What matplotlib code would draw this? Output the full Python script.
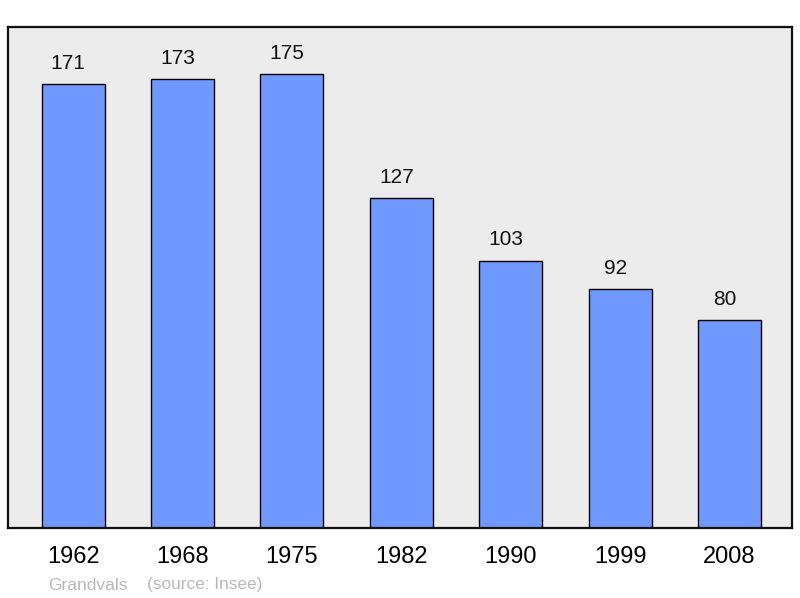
import matplotlib
matplotlib.use("Agg")
import matplotlib.pyplot as plt

years = ["1962", "1968", "1975", "1982", "1990", "1999", "2008"]
population = [171, 173, 175, 127, 103, 92, 80]
commune = "Grandvals"
source = "(source: Insee)"

plt.rcParams['font.family'] = ['Liberation Sans', 'DejaVu Sans']

fig = plt.figure(figsize=(8, 5.98), dpi=100)
ax = fig.add_axes([0.01, 0.117, 0.98, 0.838])
ax.set_facecolor("#ececec")

x = list(range(len(years)))
bars = ax.bar(x, population, width=0.576, color="#7099ff", edgecolor="black",
              linewidth=1.0, zorder=2)
for xi, v in zip(x, population):
    ax.annotate(str(v), (xi, v), xytext=(-3.5, 8), textcoords="offset points",
                ha="center", va="bottom", fontsize=15, color="#111111")

ax.set_xlim(-0.595, 6.572)
ax.set_ylim(0, 193)
ax.set_yticks([])
ax.set_xticks(x)
ax.set_xticklabels(years, fontsize=17)
ax.tick_params(axis="x", length=0, pad=13)
for s in ax.spines.values():
    s.set_linewidth(1.6)
    s.set_color("#111111")

fig.text(48 / 800, 1 - 585 / 598, commune, fontsize=12.5, color="#b8b8b8",
         ha="left", va="center")
fig.text(147 / 800, 1 - 585 / 598, source, fontsize=12.4, color="#b8b8b8",
         ha="left", va="center")

fig.savefig("out.png", dpi=100)
